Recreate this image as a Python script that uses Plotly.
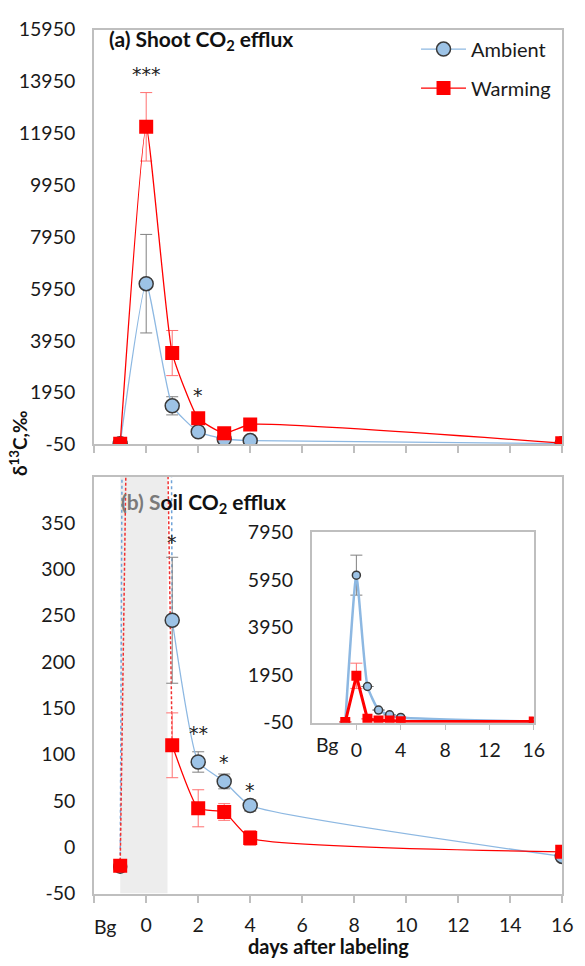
import plotly.graph_objects as go

# ---------------- data ----------------
days = [-1, 0, 1, 2, 3, 4, 16]          # -1 = background (Bg)
x_ticks = [-2, 0, 2, 4, 6, 8, 10, 12, 14, 16]
x_ticktext = ["", "0", "2", "4", "6", "8", "10", "12", "14", "16"]

shoot_amb = [-20, 6150, 1440, 440, 160, 100, -20]
shoot_amb_err = [None, 1900, 350, None, None, None, None]
shoot_warm = [-20, 12200, 3475, 960, 380, 720, 0]
shoot_warm_err = [None, 1320, 870, None, None, None, None]
shoot_y_ticks = [-50, 1950, 3950, 5950, 7950, 9950, 11950, 13950, 15950]

soil_amb = [-21, 6150, 245, 92, 71, 45, -10]
soil_amb_err = [None, None, 68, 11, 8, 6, None]
soil_warm = [-20, 1920, 110, 42, 38, 10, -5]
soil_warm_err = [None, None, 35, 20, 9, 8, None]
soil_y_ticks = [-50, 0, 50, 100, 150, 200, 250, 300, 350]

inset_amb = [-20, 6150, 1470, 480, 280, 170, -10]
inset_amb_err = [None, 840, None, None, None, None, None]
inset_warm = [-20, 1920, 110, 42, 38, 10, -5]
inset_warm_err = [None, 530, None, None, None, None, None]
inset_x_ticks = [0, 4, 8, 12, 16]
inset_y_ticks = [-50, 1950, 3950, 5950, 7950]

# significance marks: (day, value, text)
shoot_sig = [(0, 14250, "***"), (2, 1850, "*")]
soil_sig = [(1, 330, "*"), (2, 123, "**"), (3, 92, "*"), (4, 62, "*")]

# ---------------- style ----------------
FONT = "Lato"
AMB_LINE = "#8DB8E2"
AMB_FILL = "#9DC3E6"
AMB_EDGE = "#3A3A3A"
RED = "#FF0000"
RED_ERR = "#FF7070"
GRAY_ERR = "#808080"
FRAME = "#BFBFBF"
SMOOTH = 0.45

fig = go.Figure()

def amb_trace(x, y, err, xa, ya, size, lw, show=False, mode="lines+markers", shape="spline"):
    return go.Scatter(
        x=x, y=y, xaxis=xa, yaxis=ya, mode=mode, name="Ambient", showlegend=show,
        legendgroup="a",
        line=dict(color=AMB_LINE, width=lw, shape=shape, smoothing=SMOOTH),
        marker=dict(symbol="circle", size=size, color=AMB_FILL, line=dict(color=AMB_EDGE, width=1.5)),
        error_y=dict(type="data", array=err, color=GRAY_ERR, thickness=1, width=6, visible=err is not None),
    )

def warm_trace(x, y, err, xa, ya, size, lw, show=False, mode="lines+markers", shape="spline"):
    return go.Scatter(
        x=x, y=y, xaxis=xa, yaxis=ya, mode=mode, name="Warming", showlegend=show,
        legendgroup="w",
        line=dict(color=RED, width=lw, shape=shape, smoothing=SMOOTH),
        marker=dict(symbol="square", size=size, color=RED, line=dict(width=0)),
        error_y=dict(type="data", array=err, color=RED_ERR, thickness=1, width=6, visible=err is not None),
    )

# ---- panel (a) shoot ----
fig.add_trace(amb_trace(days, shoot_amb, shoot_amb_err, "x", "y", 14, 1.3, show=True))
fig.add_trace(warm_trace(days, shoot_warm, shoot_warm_err, "x", "y", 14, 1.3, show=True))

# ---- panel (b) soil ----
# off-scale labeling-day segments (Bg -> day 0 -> day 1), dashed
fig.add_trace(go.Scatter(x=days[:3], y=soil_amb[:3], xaxis="x2", yaxis="y2", mode="lines",
                         showlegend=False, line=dict(color="#6FA3D8", width=1.5, dash="dot")))
fig.add_trace(go.Scatter(x=days[:3], y=soil_warm[:3], xaxis="x2", yaxis="y2", mode="lines",
                         showlegend=False, line=dict(color="#F03030", width=1.5, dash="3px,2px")))
# Bg markers
fig.add_trace(amb_trace(days[:1], soil_amb[:1], None, "x2", "y2", 13, 1.3, mode="markers"))
fig.add_trace(warm_trace(days[:1], soil_warm[:1], None, "x2", "y2", 14, 1.3, mode="markers"))
# days 1..16
fig.add_trace(amb_trace(days[2:], soil_amb[2:], soil_amb_err[2:], "x2", "y2", 14, 1.3))
fig.add_trace(warm_trace(days[2:], soil_warm[2:], soil_warm_err[2:], "x2", "y2", 14, 1.3))

# ---- inset ----
fig.add_trace(amb_trace(days, inset_amb, inset_amb_err, "x3", "y3", 8, 2.5))
fig.add_trace(warm_trace(days, inset_warm, inset_warm_err, "x3", "y3", 10, 3, shape="linear"))

# ---------------- axes ----------------
W, H = 585, 966
def px(x):
    return x / W
def py(y):
    return 1 - y / H

xdom = [px(96), px(573)]
tickfont = dict(family=FONT, size=19.5, color="#1a1a1a")

common_x = dict(range=[-2, 16], tickvals=x_ticks, showgrid=False, zeroline=False,
                showline=True, linecolor=FRAME, linewidth=2, mirror=True,
                ticks="outside", ticklen=7, tickcolor=FRAME, tickwidth=1.5, tickfont=tickfont)
common_y = dict(showgrid=False, zeroline=False, showline=True, linecolor=FRAME, linewidth=2,
                mirror=True, ticks="", tickfont=tickfont, ticklabelstandoff=13)

fig.update_layout(
    width=W, height=H, margin=dict(l=0, r=0, t=0, b=0),
    paper_bgcolor="white", plot_bgcolor="white",
    font=dict(family=FONT, color="#1a1a1a"),
    xaxis=dict(domain=xdom, anchor="y", showticklabels=False, **common_x),
    yaxis=dict(domain=[py(443), py(18)], anchor="x", range=[-50, 15950],
               tickvals=shoot_y_ticks, ticktext=[str(v) for v in shoot_y_ticks], **common_y),
    xaxis2=dict(domain=xdom, anchor="y2", ticktext=x_ticktext, ticklabelstandoff=6, **common_x),
    yaxis2=dict(domain=[py(903), py(476)], anchor="x2", range=[-50, 400],
                tickvals=soil_y_ticks, ticktext=[str(v) for v in soil_y_ticks], **common_y),
    xaxis3=dict(domain=[px(318), px(544)], anchor="y3", range=[-4, 16], tickvals=inset_x_ticks,
                showgrid=False, zeroline=False, showline=True, linecolor=FRAME, linewidth=2,
                mirror=True, ticks="outside", ticklen=5, tickcolor=FRAME, tickfont=tickfont,
                ticklabelstandoff=4),
    yaxis3=dict(domain=[py(728), py(533)], anchor="x3", range=[-50, 7950],
                tickvals=inset_y_ticks, ticktext=[str(v) for v in inset_y_ticks], **common_y),
    legend=dict(x=px(424), y=py(18), xanchor="left", yanchor="top",
                font=dict(family=FONT, size=20, color="#1a1a1a"),
                bgcolor="rgba(0,0,0,0)", tracegroupgap=10, itemwidth=45),
    showlegend=True,
)

# shaded labeling period in soil panel
fig.add_shape(type="rect", xref="x2", yref="y2", x0=-1, x1=0.82, y0=-50, y1=400,
              fillcolor="#E6E6E6", opacity=0.7, line=dict(width=0), layer="below")

annots = []
annots.append(dict(x=px(109), y=py(29), xref="paper", yref="paper", xanchor="left", yanchor="middle",
                   text="<b>(a) Shoot CO<sub>2</sub> efflux</b>", showarrow=False,
                   font=dict(family=FONT, size=21, color="#111111")))
annots.append(dict(x=px(121), y=py(503), xref="paper", yref="paper", xanchor="left", yanchor="middle",
                   text='<b><span style="color:#7a7a7a">(b) S</span>oil CO<sub>2</sub> efflux</b>',
                   showarrow=False, font=dict(family=FONT, size=21, color="#111111")))
annots.append(dict(x=px(19), y=py(442), xref="paper", yref="paper", xanchor="center", yanchor="middle",
                   text="<b>δ<sup>13</sup>C,‰</b>", textangle=-90, showarrow=False,
                   font=dict(family=FONT, size=19, color="#111111")))
annots.append(dict(x=px(335), y=py(957), xref="paper", yref="paper", xanchor="center", yanchor="middle",
                   text="<b>days after labeling</b>", showarrow=False,
                   font=dict(family=FONT, size=20, color="#111111")))
annots.append(dict(x=px(107), y=py(937), xref="paper", yref="paper", xanchor="center", yanchor="middle",
                   text="Bg", showarrow=False, font=tickfont))
annots.append(dict(x=px(333), y=py(750), xref="paper", yref="paper", xanchor="center", yanchor="middle",
                   text="Bg", showarrow=False, font=tickfont))
STAR = dict(family="DejaVu Sans", size=19, color="#222222")
for d, v, t in shoot_sig:
    annots.append(dict(x=d, y=v, xref="x", yref="y", text=t, showarrow=False, font=STAR))
for d, v, t in soil_sig:
    annots.append(dict(x=d, y=v, xref="x2", yref="y2", text=t, showarrow=False, font=STAR))
fig.update_layout(annotations=annots)

fig.write_html("out.html")
